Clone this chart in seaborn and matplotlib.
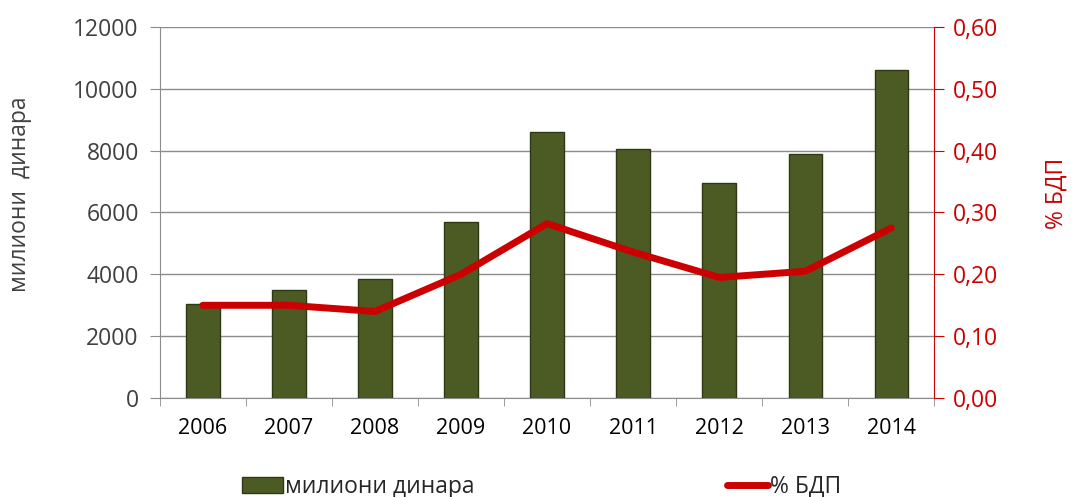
import matplotlib
matplotlib.use("Agg")
import matplotlib.pyplot as plt
import seaborn as sns
import pandas as pd
import numpy as np
from matplotlib.lines import Line2D
from matplotlib.patches import Patch

# --- data ---
years = ["2006", "2007", "2008", "2009", "2010", "2011", "2012", "2013", "2014"]
mil_dinara = [3050, 3500, 3850, 5700, 8600, 8050, 6950, 7900, 10600]
pct_bdp = [0.150, 0.150, 0.140, 0.200, 0.282, 0.236, 0.195, 0.205, 0.275]

left_ticks = [0, 2000, 4000, 6000, 8000, 10000, 12000]
right_ticks = [0.0, 0.1, 0.2, 0.3, 0.4, 0.5, 0.6]
right_labels = ["0,00", "0,10", "0,20", "0,30", "0,40", "0,50", "0,60"]

BAR_COLOR = "#4b5b23"
RED = "#cc0000"

sns.set_style("white")
plt.rcParams["font.family"] = ["Open Sans", "DejaVu Sans"]

df = pd.DataFrame({"year": years, "mil": mil_dinara, "pct": pct_bdp})

fig = plt.figure(figsize=(10.79, 4.97), dpi=100)
ax = fig.add_axes([0.148, 0.199, 0.718, 0.747])

sns.barplot(data=df, x="year", y="mil", color=BAR_COLOR, width=0.39,
            edgecolor="#2e3814", linewidth=1.0, saturation=1, ax=ax, zorder=2)
ax.set_ylim(0, 12000)
ax.set_yticks(left_ticks)
ax.yaxis.grid(True, color="#8c8c8c", linewidth=1.0, zorder=0)
ax.set_axisbelow(True)
ax.set_xlabel("")
ax.set_ylabel("милиони  динара", fontsize=16.5, color="#404040", labelpad=30)
ax.yaxis.label.set_y(0.55)
ax.tick_params(axis="y", labelsize=16.5, labelcolor="#404040", length=7,
               color="#8c8c8c", left=True, direction="out", pad=8)
ax.tick_params(axis="x", labelsize=15.5, labelcolor="black", length=0, pad=14)
for s in ["top", "right"]:
    ax.spines[s].set_visible(False)
ax.spines["left"].set_color("#8c8c8c")
ax.spines["bottom"].set_color("#8c8c8c")
# category boundary ticks on the x axis
ax.set_xticks(np.arange(-0.5, len(years), 1.0), minor=True)
ax.tick_params(axis="x", which="minor", length=6, color="#8c8c8c", bottom=True)
ax.set_xlim(-0.5, len(years) - 0.5)

ax2 = ax.twinx()
sns.lineplot(x=np.arange(len(years)), y=df["pct"], color=RED, linewidth=5,
             ax=ax2, zorder=3)
ax2.set_ylim(0, 0.6)
ax2.set_yticks(right_ticks)
ax2.set_yticklabels(right_labels)
ax2.set_ylabel("% БДП", fontsize=16.5, color=RED, labelpad=34)
ax2.yaxis.label.set_y(0.55)
ax2.tick_params(axis="y", labelsize=16.5, labelcolor=RED, length=7, color=RED,
                right=True, direction="out", pad=6)
for s in ["top", "left", "bottom"]:
    ax2.spines[s].set_visible(False)
ax2.spines["right"].set_color(RED)
ax2.grid(False)

handles = [Patch(facecolor=BAR_COLOR, edgecolor="#2e3814"),
           Line2D([0], [0], color=RED, linewidth=5)]
fig.legend(handles, ["милиони динара", "% БДП"], loc="lower center",
           bbox_to_anchor=(0.502, -0.045), ncol=2, frameon=False, fontsize=16.5,
           columnspacing=11, handlelength=1.8, handletextpad=0.1)

fig.savefig("out.png", dpi=100)
